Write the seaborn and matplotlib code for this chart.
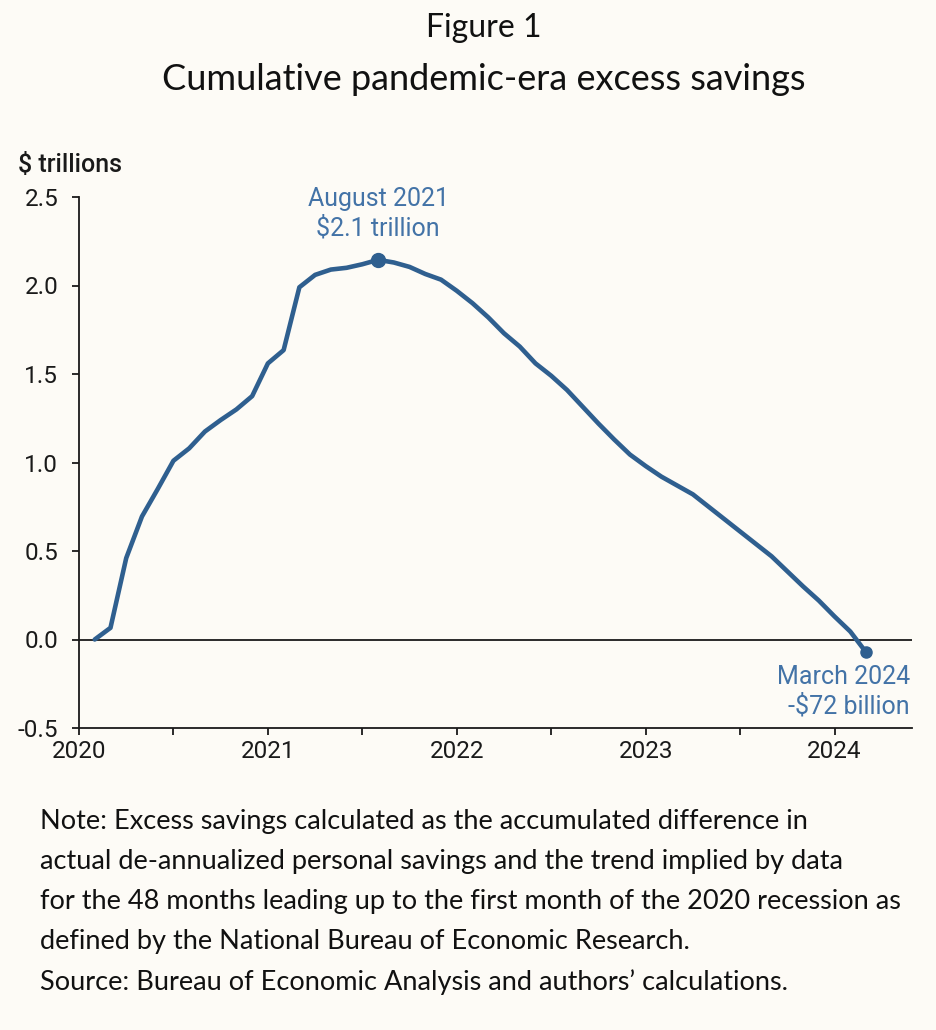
import matplotlib
matplotlib.use("Agg")
import matplotlib.pyplot as plt
import seaborn as sns
import pandas as pd
import numpy as np
from matplotlib.ticker import FixedLocator

# ---- data (trillions of dollars, monthly Feb 2020 .. Mar 2024) ----
months = pd.date_range("2020-02-01", "2024-03-01", freq="MS")
excess_savings = [
    0.00, 0.066, 0.46, 0.695, 0.85, 1.01, 1.08, 1.175, 1.24, 1.30, 1.375,   # Feb-Dec 2020
    1.56, 1.635, 1.99, 2.06, 2.09, 2.10, 2.12, 2.145, 2.13, 2.105, 2.065, 2.033,  # 2021
    1.97, 1.90, 1.82, 1.73, 1.655, 1.56, 1.49, 1.41, 1.315, 1.22, 1.13, 1.045,   # 2022
    0.98, 0.92, 0.87, 0.82, 0.75, 0.68, 0.61, 0.54, 0.47, 0.385, 0.30, 0.22,     # 2023
    0.13, 0.045, -0.072,                                                        # Jan-Mar 2024
]
year_ticks = [2020, 2021, 2022, 2023, 2024]
y_ticks = [-0.5, 0.0, 0.5, 1.0, 1.5, 2.0, 2.5]
y_labels = ["-0.5", "0.0", "0.5", "1.0", "1.5", "2.0", "2.5"]
peak_label = "August 2021\n$2.1 trillion"
end_label = "March 2024\n-$72 billion"

df = pd.DataFrame({"date": months, "value": excess_savings})
df["t"] = df["date"].dt.year + (df["date"].dt.month - 1) / 12.0

BG = "#FDFBF6"
LINE = "#2F5F8F"
ANN = "#4373A7"

sns.set_theme(style="white")
plt.rcParams["font.family"] = ["Roboto", "DejaVu Sans"]

fig = plt.figure(figsize=(9.36, 10.30), dpi=100, facecolor=BG)
ax = fig.add_axes([79/936, 1-728/1030, (912-79)/936, (728-197)/1030])
ax.set_facecolor(BG)

ax.axhline(0, color="#1a1a1a", lw=1.3, zorder=1)
sns.lineplot(data=df, x="t", y="value", ax=ax, color=LINE, lw=3.3, zorder=3)

ipk = int(np.argmax(df["value"].values))
ax.plot(df["t"].iloc[ipk], df["value"].iloc[ipk], "o", color=LINE, ms=10, zorder=4)
ax.plot(df["t"].iloc[-1], df["value"].iloc[-1], "o", color=LINE, ms=8, zorder=4)

ax.text(df["t"].iloc[ipk], 2.405, peak_label, ha="center", va="center",
        color=ANN, fontsize=18, linespacing=1.25)
ax.text(2024.40, -0.296, end_label, ha="right", va="center",
        color=ANN, fontsize=18, linespacing=1.25)

ax.set_xlim(2020.0, 2024.41)
ax.set_ylim(-0.5, 2.5)
ax.set_xticks(year_ticks)
ax.set_xticklabels([str(y) for y in year_ticks])
ax.xaxis.set_minor_locator(FixedLocator([y + 0.5 for y in year_ticks]))
ax.set_yticks(y_ticks)
ax.set_yticklabels(y_labels)
ax.set_xlabel("")
ax.set_ylabel("")

for s in ["top", "right"]:
    ax.spines[s].set_visible(False)
for s in ["left", "bottom"]:
    ax.spines[s].set_color("#1a1a1a")
    ax.spines[s].set_linewidth(1.3)

ax.tick_params(axis="y", which="major", direction="out", length=5, width=1.3,
               color="#1a1a1a", labelsize=17.5, labelcolor="#1a1a1a", pad=10, left=True)
ax.tick_params(axis="x", which="major", direction="out", length=5, width=1.3,
               color="#1a1a1a", labelsize=17.5, labelcolor="#1a1a1a", pad=4, bottom=True)
ax.tick_params(axis="x", which="minor", direction="out", length=5, width=1.3,
               color="#1a1a1a", bottom=True)

fig.text(18/936, 1-165/1030, "$ trillions", ha="left", va="center",
         fontsize=18, fontweight="medium", color="#1a1a1a")

fig.text(484/936, 1-28/1030, "Figure 1", ha="center", va="center",
         fontsize=23, color="#111111", family=["Lato", "DejaVu Sans"])
fig.text(484/936, 1-80/1030, "Cumulative pandemic-era excess savings", ha="center",
         va="center", fontsize=26, color="#111111", family=["Lato", "DejaVu Sans"])

notes = [
    "Note: Excess savings calculated as the accumulated difference in",
    "actual de-annualized personal savings and the trend implied by data",
    "for the 48 months leading up to the first month of the 2020 recession as",
    "defined by the National Bureau of Economic Research.",
    "Source: Bureau of Economic Analysis and authors\u2019 calculations.",
]
for i, line in enumerate(notes):
    fig.text(40/936, 1-(822 + 40*i)/1030, line, ha="left", va="center",
             fontsize=19.5, color="#111111", family=["Lato", "DejaVu Sans"])

fig.savefig("out.png", dpi=100, facecolor=BG)
